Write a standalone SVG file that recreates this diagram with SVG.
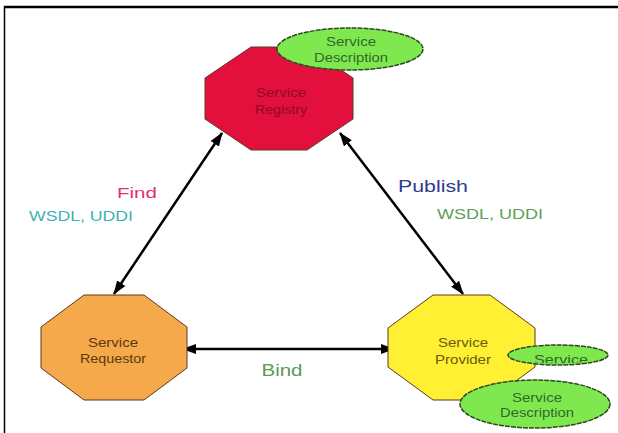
<svg xmlns="http://www.w3.org/2000/svg" width="618" height="433" viewBox="0 0 618 433">
<style>
text{font-family:"Liberation Sans",Arial,sans-serif;text-anchor:middle}
.oct{stroke:#5a3a20;stroke-width:1}
.ell{fill:#7fe84e;stroke:#2a4a20;stroke-width:1.5;stroke-dasharray:5 1}
.nt{font-size:13px}
.et{font-size:13px;fill:#2f6a2a}
.conn{stroke:#000;stroke-width:2.5;fill:none}
</style>
<defs>
<marker id="ah" viewBox="0 0 14 10" refX="13" refY="5" markerWidth="14" markerHeight="10" markerUnits="userSpaceOnUse" orient="auto-start-reverse">
<path d="M0,0 L14,5 L0,10 z" fill="#000"/>
</marker>
<clipPath id="smallclip"><ellipse cx="558" cy="355" rx="49" ry="8.5"/></clipPath>
</defs>
<rect width="618" height="433" fill="#fff"/>
<g id="frame">
<line x1="4" y1="7" x2="618" y2="7" stroke="#000" stroke-width="2.5"/>
<line x1="4.5" y1="6" x2="4.5" y2="433" stroke="#000" stroke-width="1.5"/>
</g>
<g id="connectors">
<line class="conn" x1="114" y1="294" x2="222" y2="133" marker-start="url(#ah)" marker-end="url(#ah)"/>
<line class="conn" x1="340" y1="133" x2="463" y2="294" marker-start="url(#ah)" marker-end="url(#ah)"/>
<line class="conn" x1="183" y1="349" x2="394" y2="349" marker-start="url(#ah)" marker-end="url(#ah)"/>
</g>
<g id="labels">
<text x="137" y="198" font-size="15" fill="#e0306a" textLength="40" lengthAdjust="spacingAndGlyphs">Find</text>
<text x="81" y="221" font-size="14" fill="#3fb3b3" textLength="104" lengthAdjust="spacingAndGlyphs">WSDL, UDDI</text>
<text x="433" y="192" font-size="17" fill="#2f3a8f" textLength="70" lengthAdjust="spacingAndGlyphs">Publish</text>
<text x="490" y="219" font-size="14" fill="#5aa05a" textLength="106" lengthAdjust="spacingAndGlyphs">WSDL, UDDI</text>
<text x="282" y="376" font-size="17" fill="#5a9a5a" textLength="41" lengthAdjust="spacingAndGlyphs">Bind</text>
</g>
<g id="registry">
<polygon class="oct" fill="#e3103d" points="251,47 307,47 353,78 353,119 307,150 251,150 205,119 205,78"/>
<text class="nt" x="281" y="97" fill="#900a26" textLength="50" lengthAdjust="spacingAndGlyphs">Service</text>
<text class="nt" x="281" y="114" fill="#900a26" textLength="52" lengthAdjust="spacingAndGlyphs">Registry</text>
</g>
<g id="registry-description">
<ellipse class="ell" cx="350" cy="49" rx="73" ry="21"/>
<text class="et" x="351" y="46" textLength="50" lengthAdjust="spacingAndGlyphs">Service</text>
<text class="et" x="351" y="62" textLength="74" lengthAdjust="spacingAndGlyphs">Description</text>
</g>
<g id="requestor">
<polygon class="oct" fill="#f6a94a" points="84,295 144,295 187,327 187,368 144,400 84,400 41,368 41,327"/>
<text class="nt" x="113" y="347" fill="#5a3a10" textLength="50" lengthAdjust="spacingAndGlyphs">Service</text>
<text class="nt" x="113" y="363" fill="#5a3a10" textLength="66" lengthAdjust="spacingAndGlyphs">Requestor</text>
</g>
<g id="provider">
<polygon class="oct" fill="#fff033" points="433,295 490,295 535,328 535,367 490,400 433,400 388,367 388,328"/>
<text class="nt" x="463" y="347" fill="#6a5a10" textLength="50" lengthAdjust="spacingAndGlyphs">Service</text>
<text class="nt" x="463" y="364" fill="#6a5a10" textLength="56" lengthAdjust="spacingAndGlyphs">Provider</text>
</g>
<g id="provider-service">
<ellipse class="ell" cx="558" cy="355" rx="50" ry="10"/>
<text class="et" x="561" y="364" font-size="14" clip-path="url(#smallclip)" textLength="54" lengthAdjust="spacingAndGlyphs">Service</text>
</g>
<g id="provider-description">
<ellipse class="ell" cx="535" cy="404" rx="75" ry="24"/>
<text class="et" x="537" y="402" textLength="50" lengthAdjust="spacingAndGlyphs">Service</text>
<text class="et" x="537" y="417" textLength="74" lengthAdjust="spacingAndGlyphs">Description</text>
</g>
</svg>
